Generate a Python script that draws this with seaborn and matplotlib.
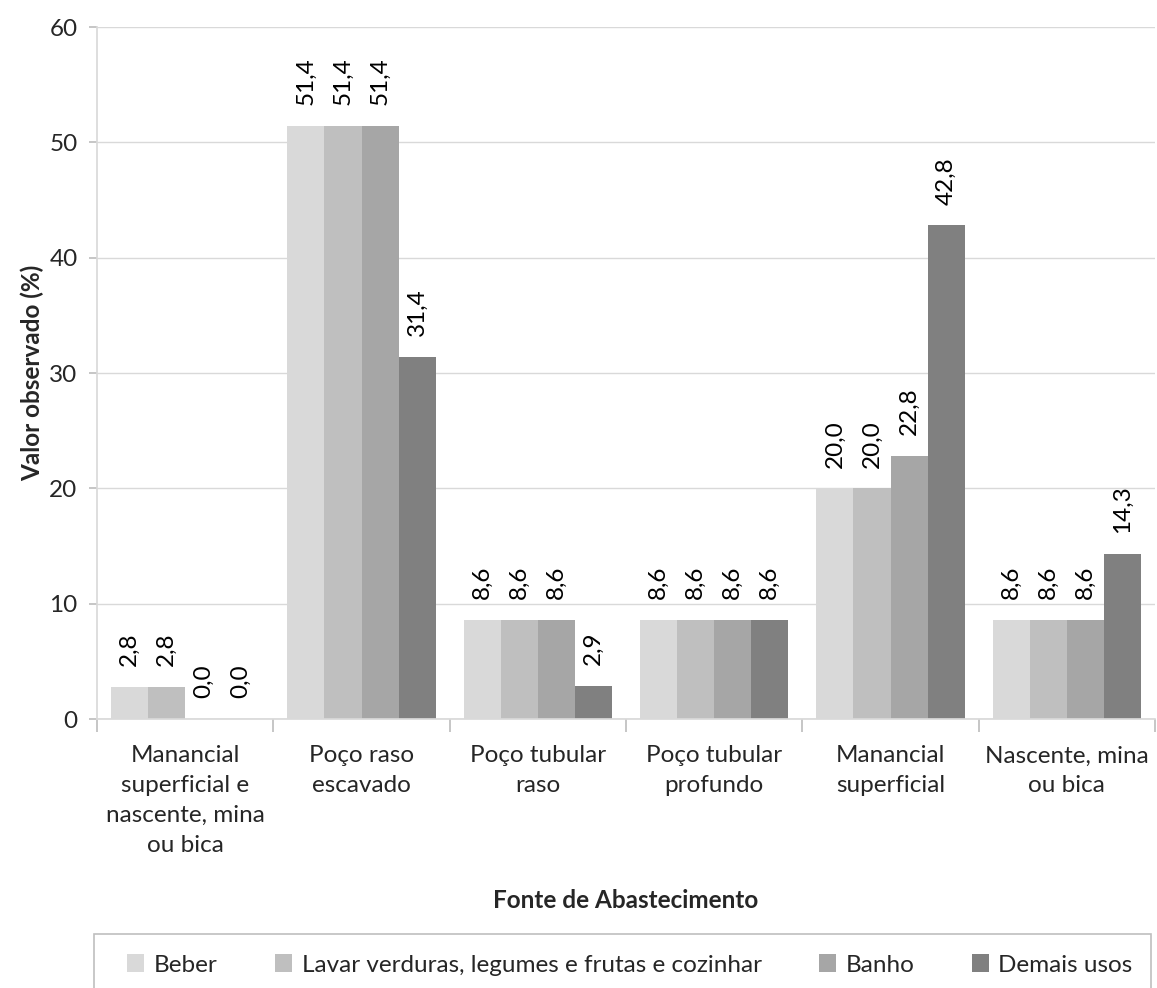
import matplotlib
matplotlib.use("Agg")
import matplotlib.pyplot as plt
from matplotlib.patches import Rectangle
import seaborn as sns
import pandas as pd
import numpy as np

categories = ["Manancial\nsuperficial e\nnascente, mina\nou bica", "Poço raso\nescavado",
              "Poço tubular\nraso", "Poço tubular\nprofundo", "Manancial\nsuperficial",
              "Nascente, mina\nou bica"]
series = ["Beber", "Lavar verduras, legumes e frutas e cozinhar", "Banho", "Demais usos"]
beber = [2.8, 51.4, 8.6, 8.6, 20.0, 8.6]
lavar = [2.8, 51.4, 8.6, 8.6, 20.0, 8.6]
banho = [0.0, 51.4, 8.6, 8.6, 22.8, 8.6]
demais = [0.0, 31.4, 2.9, 8.6, 42.8, 14.3]
colors = ["#D9D9D9", "#BFBFBF", "#A6A6A6", "#808080"]
yticks = [0, 10, 20, 30, 40, 50, 60]

rows = []
for s, vals in zip(series, [beber, lavar, banho, demais]):
    for c, v in zip(categories, vals):
        rows.append({"cat": c, "serie": s, "val": v})
df = pd.DataFrame(rows)

sns.set_theme(style="white")
plt.rcParams['font.family'] = ['Lato', 'DejaVu Sans']
FS = 17.5

W, H = 1157, 988
fig = plt.figure(figsize=(W / 100, H / 100), dpi=100)
ax_left, ax_right, ax_top, ax_bottom = 97, 1155, 27, 719
ax = fig.add_axes([ax_left / W, 1 - ax_bottom / H, (ax_right - ax_left) / W, (ax_bottom - ax_top) / H])

sns.barplot(data=df, x="cat", y="val", hue="serie", order=categories, hue_order=series,
            palette=colors, width=0.84, saturation=1, ax=ax, legend=True, linewidth=0)

for cont in ax.containers:
    labels = [f"{b.get_height():.1f}".replace(".", ",") for b in cont]
    ax.bar_label(cont, labels=labels, rotation=90, padding=15, fontsize=FS, color="black")

ax.set_ylim(0, 60)
ax.set_xlim(-0.5, 5.5)
ax.set_yticks(yticks)
ax.set_yticklabels([str(t) for t in yticks], fontsize=FS)
ax.yaxis.grid(True, color="#D9D9D9", linewidth=1)
ax.set_axisbelow(True)

ax.set_xticks(np.arange(-0.5, 6.0, 1.0))
ax.set_xticklabels([])
ax.set_xticks(np.arange(6), minor=True)
ax.set_xticklabels(categories, minor=True, fontsize=FS, linespacing=1.52)
ax.tick_params(axis="x", which="major", length=9, color="#BFBFBF", direction="out", bottom=True)
ax.tick_params(axis="x", which="minor", length=0, pad=19)
ax.tick_params(axis="y", length=6, color="#BFBFBF", direction="out", left=True, pad=8)

for sp in ["top", "right"]:
    ax.spines[sp].set_visible(False)
ax.spines["left"].set_color("#D9D9D9")
ax.spines["bottom"].set_color("#D9D9D9")

ax.set_xlabel("Fonte de Abastecimento", fontsize=FS, fontweight="bold")
ax.xaxis.set_label_coords(0.5, (ax_bottom - 889) / (ax_bottom - ax_top))
ax.set_ylabel("Valor observado (%)", fontsize=FS, fontweight="bold", labelpad=4)

handles, labels = ax.get_legend_handles_labels()
ax.get_legend().remove()
fig.patches.append(Rectangle((94 / W, -0.05), (1151 - 94) / W, 0.05 + 1 - 934 / H,
                             transform=fig.transFigure, facecolor="none",
                             edgecolor="#BFBFBF", linewidth=1.2))
fig.legend(handles, labels, loc="center", ncol=4, bbox_to_anchor=(630 / W, 1 - 965 / H),
           fontsize=FS, frameon=False, handlelength=0.7, handleheight=0.7,
           handletextpad=0.4, columnspacing=2.35)

fig.savefig("out.png", dpi=100)
